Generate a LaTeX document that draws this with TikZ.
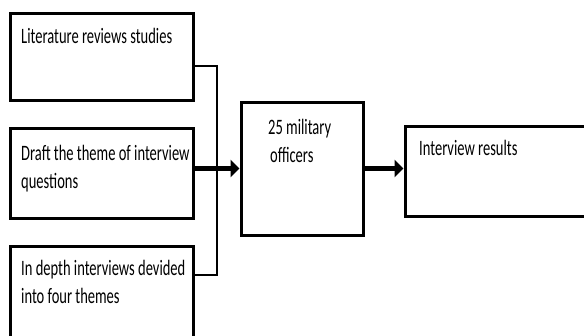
\documentclass[tikz,border=0pt]{standalone}
\usepackage{fontspec}
\setmainfont{Carlito}[FakeStretch=0.66]
\usetikzlibrary{arrows.meta}
\begin{document}
\begin{tikzpicture}[x=1pt,y=-1pt,
  box/.style={draw=black,line width=3pt,inner sep=0pt,fill=white},
  lbl/.style={inner sep=0pt,anchor=base west,align=left,font=\fontsize{22pt}{28.5pt}\selectfont},
  thin/.style={draw=black,line width=2pt},
  thick/.style={draw=black,line width=5.5pt,-{Triangle[length=9pt,width=17pt]}}]
\clip (0,0) rectangle (584,335);
\fill[white] (0,0) rectangle (584,335);
\node[box,minimum width=183pt,minimum height=87pt] (b1) at (101.5,56.5) {};
\node[box,minimum width=183pt,minimum height=90pt] (b2) at (101.5,173) {};
\node[box,minimum width=183pt,minimum height=99pt] (b3) at (101.5,295.5) {};
\node[box,minimum width=122pt,minimum height=133pt] (b4) at (302,168.5) {};
\node[box,minimum width=195pt,minimum height=90pt] (b5) at (502.5,171) {};
\node[lbl] (t1) at (21,43) {Literature reviews studies};
\node[lbl] (t2) at (21,188.5) {Draft the theme of interview\\questions};
\node[lbl] (t3) at (21,303.5) {In depth interviews devided\\into four themes};
\node[lbl] (t4) at (268,162.5) {25 military\\\hspace{2pt}officers};
\node[lbl] (t5) at (419,155) {Interview results};
\coordinate (j) at (217,166);
\draw[thin] ([yshift=-9.5pt]b1.east) -| (j) |- ([yshift=20.5pt]b3.east);
\draw[thick] (b2.east |- b4.west) -- (b4.west);
\draw[thick] (b4.east) -- (b5.west |- b4.east);
\end{tikzpicture}
\end{document}
